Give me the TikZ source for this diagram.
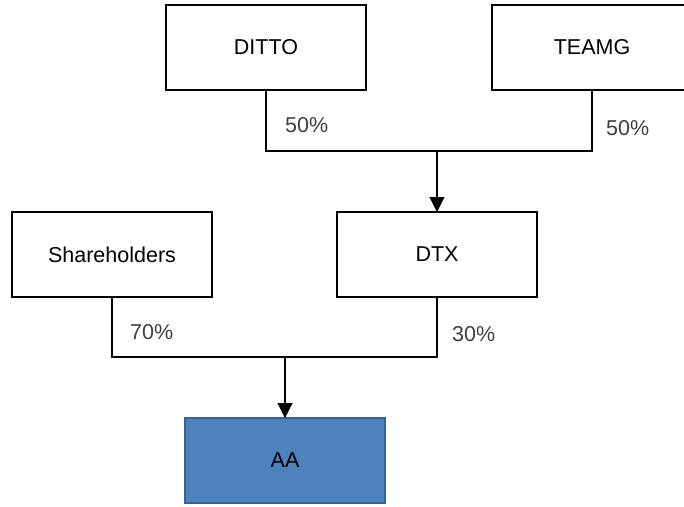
\documentclass[tikz,border=0pt]{standalone}
\usepackage{fontspec}
\setmainfont{Liberation Sans}
\usepackage{tikz}
\usetikzlibrary{arrows.meta}
\definecolor{aablue}{HTML}{4F81BD}
\definecolor{aaedge}{HTML}{3A6190}
\definecolor{pctgray}{HTML}{404040}
\tikzstyle{company}=[draw=black,line width=1.5pt,minimum width=200pt,minimum height=85pt,inner sep=0pt,outer sep=0pt,font=\fontsize{21.5}{26}\selectfont]
\tikzstyle{share}=[anchor=west,inner sep=0pt,text=pctgray,font=\fontsize{21.5}{26}\selectfont]
\tikzstyle{owns}=[line width=1.1pt]

\begin{document}
\begin{tikzpicture}[x=1pt,y=-1pt,
        owned/.style={owns,-{Triangle[length=15pt,width=15pt]}}
      ]
      \useasboundingbox (0,0) rectangle (684,506);

      \node[company] (ditto) at (266,47.5) {DITTO};
      \node[company] (teamg) at (592,47.5) {TEAMG};
      \node[company] (holders) at (112,254.5) {Shareholders};
      \node[company] (dtx) at (437,254.5) {DTX};
      \node[company,fill=aablue,draw=aaedge] (aa) at (285,460.5) {AA};

      \coordinate (j1) at (437,151);
      \coordinate (j2) at (285,357);

      \draw[owns] (ditto.south) |- (j1) -| (teamg.south);
      \draw[owned] (j1) -- (dtx.north);
      \draw[owns] (holders.south) |- (j2) -| (dtx.south);
      \draw[owned] (j2) -- (aa.north);

      \node[share] (p1) at (285,125) {50\%};
      \node[share] (p2) at (606,128) {50\%};
      \node[share] (p3) at (130,332) {70\%};
      \node[share] (p4) at (452,334) {30\%};

    \end{tikzpicture}
\end{document}
